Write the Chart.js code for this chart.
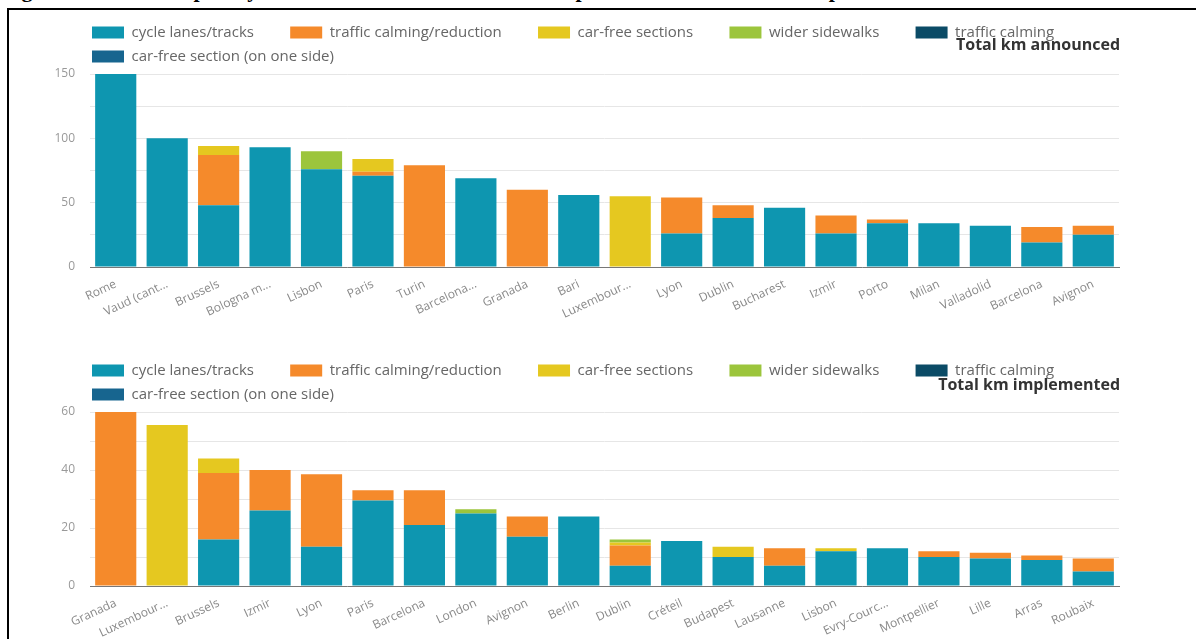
<!DOCTYPE html>
<html>
<head>
<meta charset="utf-8">
<script src="https://cdn.jsdelivr.net/npm/chart.js@4.4.1/dist/chart.umd.min.js"></script>
<style>
html, body { margin: 0; padding: 0; background: #fff; }
body { width: 1196px; height: 639px; position: relative; overflow: hidden; }
#caption { position: absolute; left: 2px; top: -23px; line-height: 24px; font: bold 22px "Liberation Serif", "Times New Roman", serif; white-space: nowrap; color: #000; }
#frame { position: absolute; left: 7px; top: 8px; width: 1300px; height: 700px; border-left: 2px solid #000; border-top: 2px solid #000; background: #fff; }
.box { position: absolute; left: 0; width: 1196px; }
#boxTop { top: 0; height: 320px; }
#boxBottom { top: 320px; height: 319px; }
</style>
</head>
<body>
<div id="caption">Figure 3: Km of temporary infrastructure announced and implemented in selected European cities</div>
<div id="frame"></div>
<div class="box" id="boxTop"><canvas id="announcedChart"></canvas></div>
<div class="box" id="boxBottom"><canvas id="implementedChart"></canvas></div>
<script>
// series names (stack order, bottom first)
const seriesNames = ['cycle lanes/tracks', 'traffic calming/reduction', 'car-free sections', 'wider sidewalks', 'traffic calming', 'car-free section (on one side)'];
const seriesColors = ['#0e96b0', '#f58a2b', '#e5c820', '#9cc53c', '#0b4b66', '#17658f'];

// total km announced
const announcedCities = ['Rome', 'Vaud (cant...', 'Brussels', 'Bologna m...', 'Lisbon', 'Paris', 'Turin', 'Barcelona...', 'Granada', 'Bari', 'Luxembour...', 'Lyon', 'Dublin', 'Bucharest', 'Izmir', 'Porto', 'Milan', 'Valladolid', 'Barcelona', 'Avignon'];
const announcedCycle     = [150, 100, 48, 93, 76, 71, 0, 69, 0, 56, 0, 26, 38, 46, 26, 34, 34, 32, 19, 25];
const announcedTraffic   = [0, 0, 39, 0, 0, 3, 79, 0, 60, 0, 0, 28, 10, 0, 14, 3, 0, 0, 12, 7];
const announcedCarFree   = [0, 0, 7, 0, 0, 10, 0, 0, 0, 0, 55, 0, 0, 0, 0, 0, 0, 0, 0, 0];
const announcedSidewalks = [0, 0, 0, 0, 14, 0, 0, 0, 0, 0, 0, 0, 0, 0, 0, 0, 0, 0, 0, 0];
const announcedCalming   = [0, 0, 0, 0, 0, 0, 0, 0, 0, 0, 0, 0, 0, 0, 0, 0, 0, 0, 0, 0];
const announcedOneSide   = [0, 0, 0, 0, 0, 0, 0, 0, 0, 0, 0, 0, 0, 0, 0, 0, 0, 0, 0, 0];
const announcedTicks = [0, 50, 100, 150];

// total km implemented
const implementedCities = ['Granada', 'Luxembour...', 'Brussels', 'Izmir', 'Lyon', 'Paris', 'Barcelona', 'London', 'Avignon', 'Berlin', 'Dublin', 'Créteil', 'Budapest', 'Lausanne', 'Lisbon', 'Evry-Courc...', 'Montpellier', 'Lille', 'Arras', 'Roubaix'];
const implementedCycle     = [0, 0, 16, 26, 13.5, 29.5, 21, 25, 17, 24, 7, 15.5, 10, 7, 12, 13, 10, 9.5, 9, 5];
const implementedTraffic   = [60, 0, 23, 14, 25, 3.5, 12, 0, 7, 0, 7, 0, 0, 6, 0, 0, 2, 2, 1.5, 4.5];
const implementedCarFree   = [0, 55.5, 5, 0, 0, 0, 0, 0, 0, 0, 1, 0, 3.5, 0, 1, 0, 0, 0, 0, 0];
const implementedSidewalks = [0, 0, 0, 0, 0, 0, 0, 1.5, 0, 0, 1, 0, 0, 0, 0, 0, 0, 0, 0, 0];
const implementedCalming   = [0, 0, 0, 0, 0, 0, 0, 0, 0, 0, 0, 0, 0, 0, 0, 0, 0, 0, 0, 0];
const implementedOneSide   = [0, 0, 0, 0, 0, 0, 0, 0, 0, 0, 0, 0, 0, 0, 0, 0, 0, 0, 0, 0];
const implementedTicks = [0, 20, 40, 60];

const FONT = '"Open Sans", "DejaVu Sans", sans-serif';

// bold title drawn in the top right corner, over the legend
const cornerTitle = {
	id: 'cornerTitle',
	afterDraw(chart, args, opts) {
		const ctx = chart.ctx;
		ctx.save();
		ctx.font = 'bold 16px ' + FONT;
		ctx.fillStyle = '#333';
		ctx.textAlign = 'right';
		ctx.textBaseline = 'middle';
		ctx.fillText(opts.text, chart.chartArea.right + 1, chart.legend.top + opts.offset);
		ctx.restore();
	}
};

// legend starts in line with the plot area, not the canvas edge
const legendShift = {
	id: 'legendShift',
	afterLayout(chart, args, opts) {
		chart.legend.left += opts.dx;
		chart.legend.right += opts.dx;
	}
};

function buildChart(canvasId, cities, values, tickList, maxVal, step, titleText, padTop, titleOffset) {
	const datasets = values.map((data, i) => ({
		label: seriesNames[i],
		data: data,
		backgroundColor: seriesColors[i],
		borderWidth: 0,
		barPercentage: 0.8,
		categoryPercentage: 1,
	}));
	return new Chart(document.getElementById(canvasId), {
		type: 'bar',
		data: { labels: cities, datasets: datasets },
		plugins: [cornerTitle, legendShift],
		options: {
			responsive: true,
			maintainAspectRatio: false,
			animation: false,
			layout: { padding: { left: 10, right: 77, top: padTop, bottom: 0 } },
			plugins: {
				tooltip: { enabled: false },
				cornerTitle: { text: titleText, offset: titleOffset },
				legendShift: { dx: 73 },
				legend: {
					position: 'top',
					align: 'start',
					labels: {
						boxWidth: 32,
						boxHeight: 12,
						padding: 9,
						color: '#666',
						font: { family: FONT, size: 15 },
						generateLabels(chart) {
							const items = Chart.defaults.plugins.legend.labels.generateLabels(chart);
							items.forEach(it => { it.text = it.text + '       '; it.lineWidth = 0; });
							return items;
						}
					}
				}
			},
			scales: {
				x: {
					stacked: true,
					afterFit(scale) { scale.height = 53; },
					grid: { display: false },
					border: { display: true, color: '#777', width: 1 },
					ticks: {
						autoSkip: false,
						minRotation: 25,
						maxRotation: 25,
						padding: 2,
						color: '#888',
						font: { family: FONT, size: 12 }
					}
				},
				y: {
					stacked: true,
					min: 0,
					max: maxVal,
					afterFit(scale) { scale.width = 80; },
					grid: { color: '#e6e6e6', drawTicks: false },
					border: { display: false },
					ticks: {
						stepSize: step,
						padding: 15,
						color: '#999',
						font: { family: FONT, size: 12 },
						callback: (v) => tickList.includes(v) ? v : ''
					}
				}
			}
		}
	});
}

buildChart('announcedChart', announcedCities,
	[announcedCycle, announcedTraffic, announcedCarFree, announcedSidewalks, announcedCalming, announcedOneSide],
	announcedTicks, 150, 25, 'Total km announced', 16, 29);

buildChart('implementedChart', implementedCities,
	[implementedCycle, implementedTraffic, implementedCarFree, implementedSidewalks, implementedCalming, implementedOneSide],
	implementedTicks, 60, 10, 'Total km implemented', 34, 31);
</script>
</body>
</html>
